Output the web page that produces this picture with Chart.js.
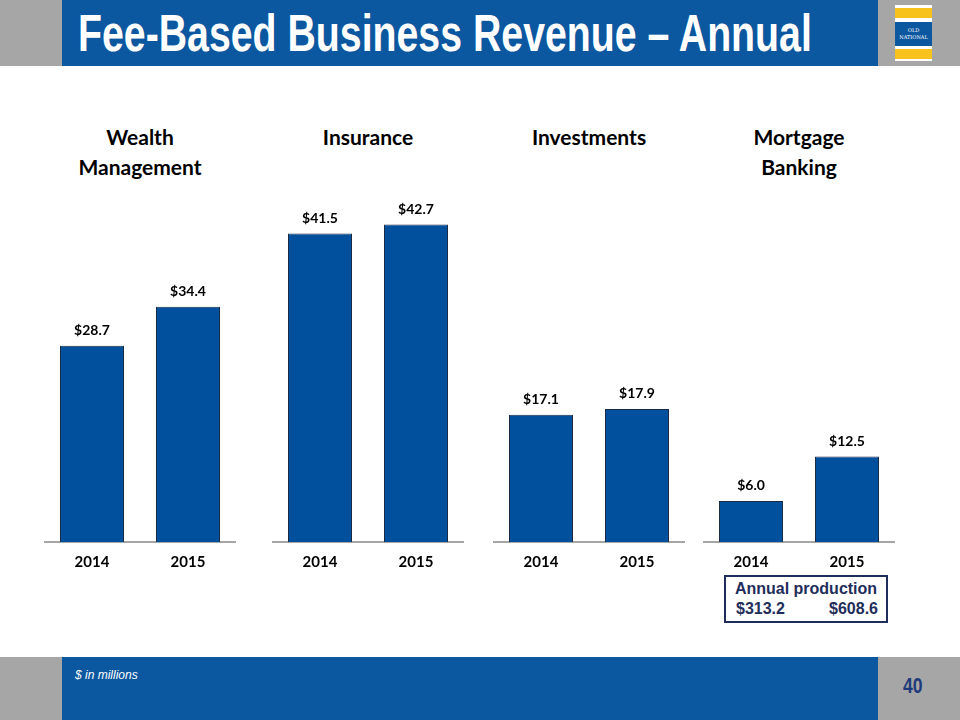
<!DOCTYPE html>
<html>
<head>
<meta charset="utf-8">
<script src="https://cdn.jsdelivr.net/npm/chart.js@4.4.0/dist/chart.umd.min.js"></script>
<style>
  body { margin:0; width:960px; height:720px; position:relative; background:#fff; overflow:hidden; font-family:Lato, "Open Sans", sans-serif; }
  .abs { position:absolute; }
  #band { left:0; top:0; width:960px; height:66px; background:#a6a6a6; }
  #banner { left:62px; top:0; width:816px; height:66px; background:#0b57a0; }
  #title { left:78px; top:0px; color:#fff; font-family:"Liberation Sans", Arial, sans-serif; font-weight:bold; font-size:52px; line-height:66px; white-space:nowrap; transform:scaleX(0.755); transform-origin:left center; }
  #logo { left:895px; top:5px; width:37px; height:56px; background:#fff; }
  .yel { position:absolute; left:0; width:37px; height:10px; background:#f8c21c; }
  #logomid { position:absolute; left:0; top:17px; width:37px; height:24px; background:#0b57a0; color:#fff; font-family:"DejaVu Serif", serif; font-size:5px; text-align:center; line-height:7px; padding-top:5px; box-sizing:border-box; }
  #foot { left:0; top:657px; width:960px; height:63px; background:#a6a6a6; }
  #footbanner { left:62px; top:657px; width:816px; height:63px; background:#0b57a0; }
  #note { left:75px; top:668px; color:#fff; font-family:"Liberation Sans", Arial, sans-serif; font-style:italic; font-size:12px; }
  #page { left:903px; top:673px; color:#1f3a7a; font-family:"Liberation Sans", sans-serif; font-weight:bold; font-size:22px; transform:scaleX(0.8); transform-origin:left center; }
  .ptitle { position:absolute; width:200px; text-align:center; font-weight:bold; font-size:21px; line-height:30px; color:#000; }
  canvas { position:absolute; }
  #box { left:724px; top:575px; width:160px; height:44px; border:2px solid #1f2d5a; color:#1f2d5a; font-family:"Liberation Sans", Arial, sans-serif; font-weight:bold; font-size:16px; line-height:20px; }
</style>
</head>
<body>
<div id="band" class="abs"></div>
<div id="banner" class="abs"></div>
<div id="title" class="abs">Fee-Based Business Revenue – Annual</div>
<div id="logo" class="abs">
  <div class="yel" style="top:3px"></div>
  <div id="logomid">OLD<br>NATIONAL</div>
  <div class="yel" style="top:44px"></div>
</div>
<div id="foot" class="abs"></div>
<div id="footbanner" class="abs"></div>
<div id="note" class="abs">$ in millions</div>
<div id="page" class="abs">40</div>
<div id="box" class="abs">
  <div style="text-align:center;margin-top:2px">Annual production</div>
  <div style="display:flex;justify-content:space-between;padding:0 8px 0 10px"><span>$313.2</span><span>$608.6</span></div>
</div>

<script>
const years = ['2014', '2015'];
const panelTitles = [['Wealth', 'Management'], ['Insurance'], ['Investments'], ['Mortgage', 'Banking']];
const wealthMgmt = [28.7, 34.4];
const insurance = [41.5, 42.7];
const investments = [17.1, 17.9];
const mortgageBanking = [6.0, 12.5];
const yMax = [50, 46, 46, 50];

const seriesList = [wealthMgmt, insurance, investments, mortgageBanking];
const panelLeft = [44, 272, 493, 703];

const valueLabels = {
  id: 'valueLabels',
  afterDatasetsDraw(chart) {
    const ctx = chart.ctx;
    ctx.save();
    ctx.fillStyle = '#000';
    ctx.font = 'bold 14px Lato, "Open Sans", sans-serif';
    ctx.textAlign = 'center';
    ctx.textBaseline = 'bottom';
    chart.getDatasetMeta(0).data.forEach((bar, i) => {
      const v = chart.data.datasets[0].data[i];
      ctx.fillText('$' + v.toFixed(1), bar.x, bar.y - 8);
    });
    ctx.restore();
  }
};

seriesList.forEach((vals, p) => {
  const t = document.createElement('div');
  t.className = 'ptitle';
  t.style.left = (panelLeft[p] + 96 - 100) + 'px';
  t.style.top = '122px';
  t.innerHTML = panelTitles[p].join('<br>');
  document.body.appendChild(t);

  const c = document.createElement('canvas');
  c.style.left = panelLeft[p] + 'px';
  c.style.top = '180px';
  c.width = 192; c.height = 394;
  c.style.width = '192px'; c.style.height = '394px';
  document.body.appendChild(c);

  new Chart(c, {
    type: 'bar',
    data: {
      labels: years,
      datasets: [{
        data: vals,
        backgroundColor: '#00509d',
        borderColor: '#1c2a44',
        borderWidth: 1,
        categoryPercentage: 1,
        barPercentage: 0.667
      }]
    },
    options: {
      responsive: false,
      animation: false,
      layout: { padding: { top: 20, left: 0, right: 0, bottom: 0 } },
      plugins: { legend: { display: false }, tooltip: { enabled: false } },
      scales: {
        x: {
          grid: { display: false },
          border: { color: '#a6a6a6', width: 2 },
          ticks: { color: '#000', font: { family: 'Lato', weight: 'bold', size: 15 }, padding: 3 }
        },
        y: { display: false, min: 0, max: yMax[p] }
      }
    },
    plugins: [valueLabels]
  });
});
</script>
</body>
</html>
